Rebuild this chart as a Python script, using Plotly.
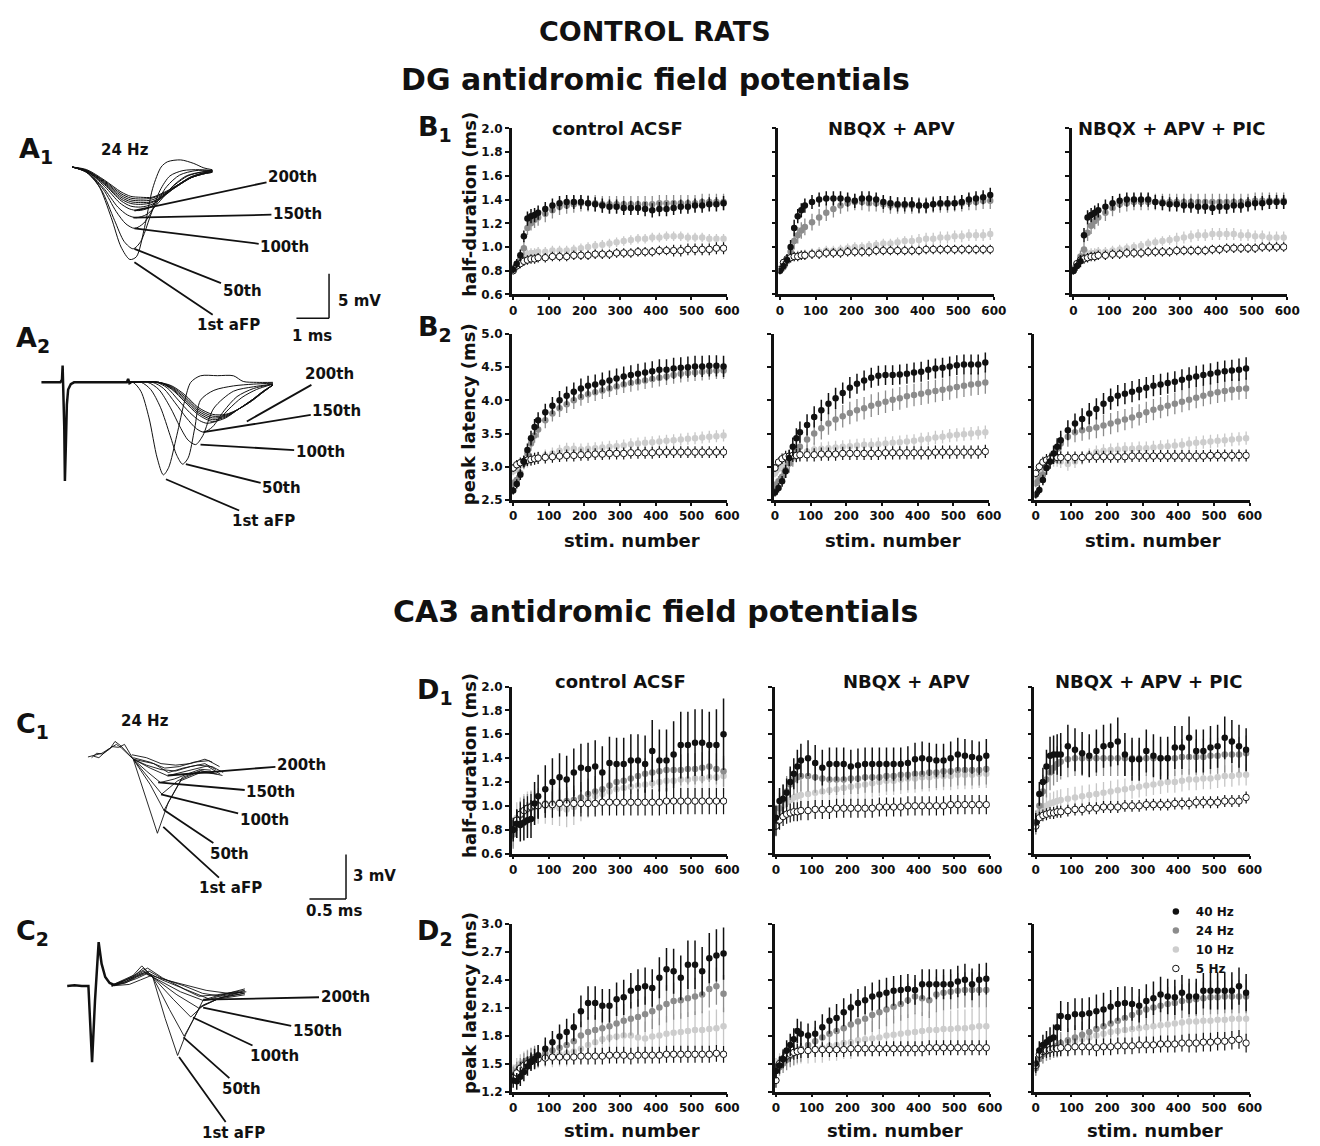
import plotly.graph_objects as go

W, H = 1320, 1146
FONT = "DejaVu Sans"
INK = "#111111"

# ---------------------------------------------------------------- shared axes data
STIM = [0, 10, 20, 30, 40, 50, 60, 70, 90, 110, 130, 150, 170, 190, 210, 230, 250,
        270, 290, 310, 330, 350, 370, 390, 410, 430, 450, 470, 490, 510, 530, 550, 570, 590]
STIM_TICKS = [0, 100, 200, 300, 400, 500, 600]
HD_TICKS = [0.6, 0.8, 1.0, 1.2, 1.4, 1.6, 1.8, 2.0]
DG_PL_TICKS = [2.5, 3.0, 3.5, 4.0, 4.5, 5.0]
CA3_PL_TICKS = [1.2, 1.5, 1.8, 2.1, 2.4, 2.7, 3.0]
CONDITIONS = ["control ACSF", "NBQX + APV", "NBQX + APV + PIC"]
FREQS = ["40 Hz", "24 Hz", "10 Hz", "5 Hz"]

# ---------------------------------------------------------------- B1: DG half-duration (x0.01 ms)
DG_HD_CTRL_40 = [81,86,93,109,124,126,127,129,132,135,137,138,138,138,137,136,135,134,134,133,133,133,132,131,132,132,133,134,134,135,135,136,136,137]
DG_HD_CTRL_40_SE = [3,4,5,5,6,6,6,6,6,6,6,6,6,6,6,6,6,6,6,6,6,6,6,6,6,6,6,6,6,6,6,6,6,6]
DG_HD_CTRL_24 = [82,84,90,99,116,120,123,125,128,131,134,135,136,137,137,137,136,136,136,136,136,136,136,136,137,137,137,137,137,137,138,138,138,138]
DG_HD_CTRL_24_SE = [3,4,5,6,6,6,7,7,7,7,7,7,7,7,7,7,7,7,7,7,7,7,7,7,7,7,7,7,7,7,7,7,7,7]
DG_HD_CTRL_10 = [82,86,90,92,94,95,95,96,96,97,97,97,98,99,100,101,102,103,104,105,106,107,107,108,108,109,109,109,108,108,108,107,107,107]
DG_HD_CTRL_10_SE = [3,3,4,4,4,4,4,4,4,4,4,4,4,4,4,4,4,4,4,4,4,4,4,4,4,4,4,4,4,4,4,4,4,4]
DG_HD_CTRL_5 = [80,84,86,88,89,90,90,91,91,92,92,92,93,93,93,94,94,94,95,95,95,96,96,96,97,97,97,97,98,98,98,98,99,99]
DG_HD_CTRL_5_SE = [3,3,4,4,4,4,4,4,4,4,4,4,4,4,4,4,4,4,4,4,4,4,4,4,4,4,5,5,5,5,5,5,5,5]

DG_HD_NBQX_40 = [80,84,89,100,116,126,131,135,138,140,141,141,141,140,139,141,141,140,138,137,136,136,136,135,135,136,137,137,137,138,140,141,142,144]
DG_HD_NBQX_40_SE = [3,4,5,6,7,6,6,6,6,6,6,6,6,6,6,6,6,6,6,6,6,6,6,6,6,6,6,6,6,6,6,6,6,6]
DG_HD_NBQX_24 = [80,83,88,96,105,110,114,117,121,125,129,132,135,137,138,138,137,137,136,135,135,135,135,135,135,136,136,136,137,137,138,138,139,139]
DG_HD_NBQX_24_SE = [3,4,5,6,7,7,7,7,7,7,7,7,7,7,7,7,7,7,7,7,7,7,7,7,7,7,7,7,7,7,7,7,7,7]
DG_HD_NBQX_10 = [82,86,89,91,92,93,93,94,95,96,97,97,98,99,100,100,101,102,103,103,104,105,105,106,107,107,108,108,109,109,110,110,110,111]
DG_HD_NBQX_10_SE = [3,3,4,4,4,4,4,4,4,4,4,4,4,4,4,4,4,4,4,4,4,4,5,5,5,5,5,5,5,5,5,5,5,5]
DG_HD_NBQX_5 = [81,87,90,91,92,92,93,93,94,94,95,95,95,96,96,96,96,97,97,97,97,97,97,97,98,98,98,98,98,98,98,98,98,98]
DG_HD_NBQX_5_SE = [3,3,4,4,4,4,4,4,4,4,4,4,4,4,4,4,4,4,4,4,4,4,4,4,4,4,4,4,4,4,4,4,4,4]

DG_HD_PIC_40 = [80,84,88,110,125,127,129,131,134,137,139,140,140,140,140,138,137,136,136,135,135,134,134,133,134,134,135,135,136,137,137,138,138,138]
DG_HD_PIC_40_SE = [3,4,5,6,6,6,6,6,6,6,6,6,6,6,6,6,6,6,6,6,6,6,6,6,6,6,6,6,6,6,6,6,6,6]
DG_HD_PIC_24 = [81,84,92,98,112,118,122,125,129,133,136,137,138,138,138,138,138,138,138,138,138,138,138,138,138,138,138,138,138,139,139,139,139,139]
DG_HD_PIC_24_SE = [3,4,5,6,7,7,7,7,7,7,7,7,7,7,7,7,7,7,7,7,7,7,7,7,7,7,7,7,7,7,7,7,7,7]
DG_HD_PIC_10 = [82,86,90,93,94,95,95,96,96,97,98,99,100,101,103,104,105,106,107,108,109,110,110,111,111,111,111,110,110,109,109,108,108,108]
DG_HD_PIC_10_SE = [3,3,4,4,4,4,4,4,4,4,4,4,4,4,4,4,4,4,5,5,5,5,5,5,5,5,5,5,5,5,5,5,5,5]
DG_HD_PIC_5 = [80,86,89,90,91,92,92,93,93,94,94,95,95,95,96,96,96,96,97,97,97,97,97,98,98,99,99,99,99,99,100,100,100,100]
DG_HD_PIC_5_SE = [3,3,4,4,4,4,4,4,4,4,4,4,4,4,4,4,4,4,4,4,4,4,4,4,4,4,4,4,4,4,4,4,4,4]

# ---------------------------------------------------------------- B2: DG peak latency (x0.01 ms)
DG_PL_CTRL_40 = [264,274,288,308,325,343,360,370,382,392,400,407,413,418,422,424,427,430,433,436,438,440,442,444,446,446,448,449,450,451,451,452,452,451]
DG_PL_CTRL_40_SE = [6,7,8,9,10,11,12,12,13,13,14,14,14,15,15,15,15,15,15,15,15,15,15,15,16,16,16,16,16,16,16,16,16,16]
DG_PL_CTRL_24 = [275,280,290,305,320,335,347,356,370,380,388,394,400,405,409,412,415,418,421,424,426,428,430,432,434,436,438,440,441,442,443,444,445,445]
DG_PL_CTRL_24_SE = [6,7,8,9,10,11,11,12,12,12,13,13,13,13,13,13,13,13,13,13,13,13,13,13,13,13,13,13,13,13,13,13,13,13]
DG_PL_CTRL_10 = [293,298,302,306,308,310,312,314,317,320,324,327,327,326,327,328,329,330,331,332,334,335,336,337,338,339,340,341,342,343,344,345,346,347]
DG_PL_CTRL_10_SE = [6,7,8,8,9,9,9,9,9,9,9,9,9,9,9,9,9,9,9,9,9,9,9,9,9,9,9,9,9,9,9,9,9,9]
DG_PL_CTRL_5 = [298,303,306,308,310,311,312,313,314,315,316,317,317,318,318,319,319,320,320,320,321,321,321,321,322,322,322,322,322,322,322,322,322,322]
DG_PL_CTRL_5_SE = [6,7,8,8,9,9,9,9,9,9,9,9,9,9,9,9,9,9,9,9,9,9,9,9,9,9,9,9,9,9,9,9,9,9]

DG_PL_NBQX_40 = [261,268,278,293,313,330,343,352,363,375,385,395,403,411,419,425,430,434,437,438,438,439,440,442,443,446,448,449,451,453,454,454,454,457]
DG_PL_NBQX_40_SE = [6,7,8,10,12,14,15,16,16,16,16,16,16,16,16,15,15,15,15,15,15,15,15,15,15,15,15,15,15,15,15,15,15,15]
DG_PL_NBQX_24 = [272,278,285,295,305,315,323,330,341,350,358,365,371,376,381,385,388,392,395,398,401,403,406,408,410,412,414,416,418,420,422,424,425,427]
DG_PL_NBQX_24_SE = [6,8,10,12,14,15,16,17,17,17,17,17,17,17,17,17,17,17,17,17,17,17,17,17,17,17,17,17,17,17,17,17,17,17]
DG_PL_NBQX_10 = [290,297,302,307,310,313,316,319,323,326,327,328,329,330,331,332,333,333,334,335,336,337,338,339,341,342,344,345,347,348,349,350,351,352]
DG_PL_NBQX_10_SE = [6,7,8,9,10,10,10,10,10,10,10,10,10,10,10,10,10,10,10,10,10,10,10,10,10,10,10,10,10,10,10,10,10,10]
DG_PL_NBQX_5 = [298,307,312,315,316,317,317,318,318,318,319,319,319,320,320,320,320,320,320,321,321,321,321,321,321,321,322,322,322,322,322,322,322,323]
DG_PL_NBQX_5_SE = [6,7,8,9,10,10,10,10,10,10,10,10,10,10,10,10,10,10,10,10,10,10,10,10,10,10,10,10,10,10,10,10,10,10]

DG_PL_PIC_40 = [258,265,280,298,308,320,330,340,355,365,372,380,387,395,402,407,410,413,416,419,422,424,426,428,431,434,436,438,440,442,444,445,446,448]
DG_PL_PIC_40_SE = [6,7,8,10,11,12,13,14,15,15,16,16,16,16,16,16,16,16,16,16,16,16,16,16,16,16,16,16,16,16,16,16,17,17]
DG_PL_PIC_24 = [275,280,288,298,308,317,327,335,345,352,355,357,359,362,365,368,371,374,378,382,386,389,392,395,398,401,404,407,410,412,414,416,417,418]
DG_PL_PIC_24_SE = [6,7,8,10,11,12,13,14,15,15,16,16,16,16,16,16,16,16,16,16,16,16,16,16,16,16,16,16,16,16,16,16,16,16]
DG_PL_PIC_10 = [282,290,297,303,307,310,310,308,304,308,313,318,322,324,325,326,327,327,328,328,329,330,331,332,333,335,336,337,338,339,340,341,342,343]
DG_PL_PIC_10_SE = [6,7,8,9,9,10,10,10,10,10,10,10,10,10,10,10,10,10,10,10,10,10,10,10,10,10,10,10,10,10,10,10,10,10]
DG_PL_PIC_5 = [290,300,307,310,312,313,314,314,314,314,314,315,315,315,315,315,315,316,316,316,316,316,316,316,316,316,316,316,317,317,317,317,317,317]
DG_PL_PIC_5_SE = [6,7,8,9,9,9,9,9,9,9,9,9,9,9,9,9,9,9,9,9,9,9,9,9,9,9,9,9,9,9,9,9,9,9]

# ---------------------------------------------------------------- D1: CA3 half-duration (x0.01 ms)
CA3_HD_CTRL_40 = [80,85,84,86,88,89,102,108,114,120,124,122,128,132,131,133,128,136,135,135,138,138,135,146,138,138,143,151,151,153,153,151,151,160]
CA3_HD_CTRL_40_SE = [10,12,14,15,15,16,18,18,20,20,20,20,20,20,22,22,22,22,22,22,22,22,24,26,26,26,28,28,28,28,28,28,30,30]
CA3_HD_CTRL_24 = [76,85,92,96,98,100,100,101,102,102,103,104,105,107,110,112,114,117,120,121,123,125,127,128,129,130,130,130,131,131,132,133,131,129]
CA3_HD_CTRL_24_SE = [12,12,12,12,12,12,12,12,12,12,12,12,12,13,13,13,13,13,13,13,13,13,13,13,13,13,13,13,13,13,13,13,13,13]
CA3_HD_CTRL_10 = [78,90,93,95,97,98,99,100,100,99,98,97,99,102,105,108,110,112,114,115,116,117,118,119,120,121,121,122,122,123,123,124,124,125]
CA3_HD_CTRL_10_SE = [12,13,14,15,15,15,15,15,15,15,15,15,15,15,15,15,15,15,15,15,15,15,15,15,15,15,15,15,15,15,15,15,15,15]
CA3_HD_CTRL_5 = [80,88,93,96,98,99,100,100,101,101,102,102,102,102,102,102,103,103,103,103,103,103,103,103,103,104,104,104,104,104,104,104,104,104]
CA3_HD_CTRL_5_SE = [8,9,10,10,10,11,11,11,11,11,11,11,11,11,11,11,11,11,11,11,11,11,11,11,11,11,11,11,11,11,11,11,11,11]

CA3_HD_NBQX_40 = [90,104,106,111,120,127,133,138,140,136,132,135,135,135,133,134,135,135,135,135,135,135,136,139,140,139,138,138,140,143,142,141,140,142]
CA3_HD_NBQX_40_SE = [10,11,12,12,13,13,14,14,15,15,15,14,14,14,14,14,14,14,14,14,14,14,14,14,14,14,14,14,14,14,14,14,14,14]
CA3_HD_NBQX_24 = [88,98,105,112,118,122,124,125,125,124,123,122,122,122,123,123,124,124,124,125,125,126,126,127,127,128,128,129,129,130,130,130,130,131]
CA3_HD_NBQX_24_SE = [13,13,13,13,13,13,13,13,13,13,13,13,13,13,13,13,13,13,13,13,13,13,13,13,13,13,13,13,13,13,13,13,13,13]
CA3_HD_NBQX_10 = [86,95,100,103,105,107,108,109,110,111,112,113,114,115,116,117,118,119,120,121,121,122,123,123,124,124,125,125,125,126,126,126,127,127]
CA3_HD_NBQX_10_SE = [12,12,12,12,12,12,12,12,12,12,12,12,12,12,12,12,12,12,12,12,12,12,12,12,12,12,12,12,12,12,12,12,12,12]
CA3_HD_NBQX_5 = [83,88,91,93,94,95,95,96,96,97,97,97,98,98,98,98,98,98,99,99,99,99,100,100,100,100,100,100,101,101,101,101,101,101]
CA3_HD_NBQX_5_SE = [8,8,8,8,8,8,8,8,8,8,8,8,8,8,8,8,8,8,8,8,8,8,8,8,8,8,8,8,8,8,8,8,8,8]

CA3_HD_PIC_40 = [86,110,120,133,142,143,143,143,150,147,144,142,146,150,151,154,143,139,139,146,142,140,140,149,149,157,146,146,149,150,157,154,150,147]
CA3_HD_PIC_40_SE = [8,10,12,14,16,16,17,18,18,18,18,18,18,18,18,20,18,18,18,18,18,18,18,18,18,18,18,18,18,18,18,18,18,18]
CA3_HD_PIC_24 = [86,100,112,122,128,132,135,137,139,140,140,140,140,140,140,140,140,140,140,140,140,140,140,140,141,141,141,141,142,142,143,143,143,144]
CA3_HD_PIC_24_SE = [10,12,14,15,15,15,15,15,15,15,15,15,15,15,15,15,15,15,15,15,15,15,15,15,15,15,15,15,15,15,15,15,15,15]
CA3_HD_PIC_10 = [84,95,98,100,102,103,104,105,106,107,108,109,110,111,112,113,114,115,116,117,118,119,120,120,121,122,122,123,123,124,125,125,126,126]
CA3_HD_PIC_10_SE = [8,9,9,9,9,9,9,9,9,9,9,9,9,9,9,9,9,9,9,9,9,9,9,9,9,9,9,9,9,9,9,9,9,9]
CA3_HD_PIC_5 = [83,90,92,93,94,94,95,95,96,97,97,98,98,99,99,99,100,100,100,101,101,101,101,102,102,102,103,103,103,103,104,104,104,107]
CA3_HD_PIC_5_SE = [5,5,5,5,5,5,5,5,5,5,5,5,5,5,5,5,5,5,5,5,5,5,5,5,5,5,5,5,5,5,5,5,5,5]

# ---------------------------------------------------------------- D2: CA3 peak latency (x0.01 ms)
CA3_PL_CTRL_40 = [132,131,136,141,147,152,155,159,166,173,179,184,189,206,215,215,212,212,219,221,228,231,233,231,242,251,249,242,256,256,249,263,266,268]
CA3_PL_CTRL_40_SE = [8,9,10,10,10,10,11,11,12,12,13,14,15,17,18,18,18,18,18,19,19,20,20,20,22,23,24,24,26,26,26,27,28,28]
CA3_PL_CTRL_24 = [138,142,146,150,153,155,157,158,161,164,167,170,174,180,184,186,188,190,193,196,198,200,203,206,210,214,217,218,220,222,224,230,233,225]
CA3_PL_CTRL_24_SE = [9,10,10,11,11,12,12,12,13,13,14,14,15,15,16,16,17,17,18,18,18,19,19,19,19,20,20,20,20,20,20,20,20,20]
CA3_PL_CTRL_10 = [140,146,150,152,154,155,156,157,158,159,160,161,163,166,170,173,176,178,179,180,180,178,177,179,180,182,183,184,185,186,186,187,188,190]
CA3_PL_CTRL_10_SE = [9,10,10,11,11,11,12,12,12,13,13,14,14,15,15,16,16,17,17,18,18,18,18,19,19,19,20,20,20,20,20,20,20,20]
CA3_PL_CTRL_5 = [135,140,145,148,150,152,154,155,156,157,157,157,157,158,158,158,158,159,159,159,158,159,159,159,159,160,160,160,160,160,160,160,161,160]
CA3_PL_CTRL_5_SE = [6,7,7,8,8,8,8,8,8,8,8,8,8,9,9,9,9,9,9,9,9,9,9,9,9,9,9,9,9,9,9,9,9,9]

CA3_PL_NBQX_40 = [142,148,155,164,170,176,185,182,180,182,189,196,199,205,210,215,218,222,224,226,228,229,230,229,235,235,235,235,235,238,240,235,240,241]
CA3_PL_NBQX_40_SE = [8,9,10,11,12,12,13,13,13,14,14,14,15,15,15,15,15,15,16,16,16,16,16,16,16,16,16,16,16,17,17,17,17,17]
CA3_PL_NBQX_24 = [142,146,150,154,158,161,164,166,170,174,178,182,185,188,192,195,198,202,205,208,211,214,218,222,220,218,224,226,227,228,229,229,229,229]
CA3_PL_NBQX_24_SE = [8,9,10,11,12,13,13,14,14,15,15,16,16,16,17,17,17,18,18,18,18,18,19,19,19,19,19,19,19,19,19,19,19,19]
CA3_PL_NBQX_10 = [148,152,156,158,160,162,163,164,165,166,167,169,170,172,173,175,176,177,178,180,181,182,183,184,185,186,186,187,187,188,188,189,190,190]
CA3_PL_NBQX_10_SE = [8,9,10,11,12,13,14,14,15,15,16,16,17,17,18,18,18,19,19,19,20,20,20,20,20,20,20,20,20,20,20,20,20,20]
CA3_PL_NBQX_5 = [132,150,155,158,160,162,163,164,164,165,165,165,165,165,166,166,166,166,166,166,166,166,166,166,166,167,167,167,167,167,167,167,167,167]
CA3_PL_NBQX_5_SE = [8,8,8,8,8,8,8,8,8,8,8,8,8,8,8,8,8,8,8,8,8,8,8,8,8,8,8,8,8,8,8,8,8,8]

CA3_PL_PIC_40 = [150,164,170,173,176,178,189,201,200,203,203,204,206,208,211,214,215,214,212,217,220,224,222,221,226,222,222,228,228,228,228,228,233,226]
CA3_PL_PIC_40_SE = [8,10,11,12,13,14,15,16,16,17,17,17,18,18,18,18,18,18,18,18,18,19,19,19,19,19,19,19,20,20,20,20,20,20]
CA3_PL_PIC_24 = [145,155,160,163,165,167,169,172,175,178,181,184,187,190,193,196,199,202,205,208,210,212,214,215,217,218,219,220,221,221,222,222,222,222]
CA3_PL_PIC_24_SE = [8,9,10,10,11,11,12,12,13,13,14,14,15,15,15,16,16,16,17,17,17,17,18,18,18,18,18,18,18,18,18,18,18,18]
CA3_PL_PIC_10 = [145,155,160,163,165,167,168,170,172,174,176,178,180,182,184,185,186,187,188,189,190,191,192,193,194,195,195,196,196,197,197,198,198,198]
CA3_PL_PIC_10_SE = [8,9,10,10,11,11,12,12,13,13,14,14,15,15,15,16,16,16,17,17,17,17,18,18,18,18,18,18,18,18,18,18,18,18]
CA3_PL_PIC_5 = [148,160,163,164,165,166,166,167,167,168,168,168,167,168,168,169,169,169,170,170,170,171,171,171,172,172,172,173,173,174,174,175,176,172]
CA3_PL_PIC_5_SE = [8,8,8,8,8,8,8,9,9,9,9,9,9,9,9,9,9,9,9,9,9,9,9,9,9,10,10,10,10,10,10,10,10,10]

# ---------------------------------------------------------------- A1: DG aFP at 24 Hz (ms, mV)
A1_T_1ST = [0, 0.4, 0.8, 1.2, 1.5, 1.77, 1.97, 2.22, 2.47, 2.73, 2.93, 3.33, 3.73, 4.04, 4.3]
A1_V_1ST = [0, -0.5, -2.0, -5.7, -9.0, -10.4, -10.1, -6.8, -2.4, 0.0, 0.6, 0.8, 0.4, -0.1, -0.3]
A1_T_50 = [0, 0.45, 0.9, 1.3, 1.6, 1.87, 2.1, 2.4, 2.7, 3.0, 3.4, 3.9, 4.3]
A1_V_50 = [0, -0.6, -2.6, -6.0, -8.4, -9.2, -8.4, -5.5, -2.6, -1.0, -0.4, -0.3, -0.4]
A1_T_100 = [0, 0.45, 0.95, 1.35, 1.65, 1.92, 2.2, 2.55, 2.9, 3.3, 3.8, 4.3]
A1_V_100 = [0, -0.6, -2.5, -5.0, -6.4, -6.9, -6.3, -4.3, -2.2, -0.9, -0.4, -0.4]
A1_T_150 = [0, 0.45, 0.95, 1.4, 1.7, 1.97, 2.3, 2.7, 3.1, 3.5, 3.9, 4.3]
A1_V_150 = [0, -0.6, -2.3, -4.5, -5.4, -5.7, -5.3, -3.8, -2.1, -1.0, -0.6, -0.4]
A1_T_200 = [0, 0.45, 1.0, 1.45, 1.75, 2.03, 2.35, 2.75, 3.15, 3.55, 3.95, 4.3]
A1_V_200 = [0, -0.5, -2.2, -4.0, -4.7, -4.9, -4.6, -3.4, -2.0, -1.0, -0.6, -0.4]
A1_T_LATE = [0, 0.45, 1.0, 1.5, 1.8, 2.1, 2.45, 2.85, 3.25, 3.65, 4.0, 4.3]
A1_V_LATE_1 = [0, -0.5, -2.0, -3.8, -4.4, -4.5, -4.2, -3.2, -2.0, -1.1, -0.7, -0.5]
A1_V_LATE_2 = [0, -0.5, -1.9, -3.6, -4.1, -4.2, -4.0, -3.1, -2.0, -1.1, -0.7, -0.5]
A1_V_LATE_3 = [0, -0.4, -1.8, -3.4, -3.9, -4.0, -3.9, -3.1, -2.1, -1.2, -0.7, -0.5]
A1_V_LATE_4 = [0, -0.4, -1.7, -3.2, -3.7, -3.8, -3.7, -3.0, -2.1, -1.2, -0.8, -0.5]
A1_V_LATE_5 = [0, -0.4, -1.6, -3.0, -3.5, -3.6, -3.5, -2.9, -2.0, -1.2, -0.8, -0.6]
A1_V_LATE_6 = [0, -0.3, -1.5, -2.8, -3.3, -3.4, -3.4, -2.8, -2.0, -1.2, -0.8, -0.6]

# ---------------------------------------------------------------- A2: DG aFP with stimulus artefact
A2_T_BASE = [-0.7, -0.12, -0.07, -0.05, 0.0, 0.02, 0.05, 0.08, 0.12, 0.2, 0.3, 1.92, 1.96, 2.0, 2.05]
A2_V_BASE = [0, 0, 0.3, 1.9, -5.0, -11.1, -7.0, -2.5, -0.8, -0.2, 0, 0, 0.4, -0.1, 0]
A2_T_1ST = [1.9, 2.11, 2.35, 2.6, 2.85, 3.04, 3.2, 3.45, 3.7, 3.88, 4.18, 4.7, 5.19, 5.49, 5.9, 6.4]
A2_V_1ST = [0, 0, -1.0, -4.0, -8.5, -10.4, -9.6, -6.0, -2.0, 0.0, 0.74, 0.75, 0.74, 0.1, 0.0, 0.0]
A2_T_50 = [1.9, 2.36, 2.65, 2.95, 3.25, 3.45, 3.63, 3.8, 4.0, 4.18, 4.59, 5.19, 5.8, 6.4]
A2_V_50 = [0, 0, -0.8, -2.8, -6.0, -8.2, -9.2, -8.5, -5.2, -2.0, -0.9, -0.4, -0.2, -0.1]
A2_T_100 = [1.9, 2.56, 2.9, 3.25, 3.55, 3.8, 4.03, 4.25, 4.59, 5.19, 5.8, 6.4]
A2_V_100 = [0, 0, -0.8, -2.8, -5.0, -6.5, -7.0, -6.0, -2.9, -1.0, -0.5, -0.2]
A2_T_150 = [1.9, 2.71, 3.05, 3.4, 3.75, 4.05, 4.28, 4.55, 4.9, 5.3, 5.8, 6.4]
A2_V_150 = [0, 0, -0.7, -2.3, -4.0, -5.2, -5.6, -5.0, -3.2, -1.6, -0.7, -0.2]
A2_T_200 = [1.9, 2.82, 3.15, 3.5, 3.85, 4.15, 4.38, 4.7, 5.05, 5.45, 5.9, 6.4]
A2_V_200 = [0, 0, -0.6, -2.0, -3.4, -4.3, -4.6, -4.3, -3.0, -1.7, -0.8, -0.2]
A2_T_LATE = [1.9, 2.9, 3.3, 3.7, 4.1, 4.55, 4.95, 5.35, 5.75, 6.1, 6.4]
A2_V_LATE_1 = [0, 0, -0.8, -2.2, -3.6, -4.4, -4.0, -3.0, -2.0, -1.0, -0.3]
A2_V_LATE_2 = [0, 0, -0.7, -2.0, -3.4, -4.2, -3.9, -3.0, -2.0, -1.0, -0.3]
A2_V_LATE_3 = [0, 0, -0.6, -1.8, -3.2, -4.0, -3.8, -3.0, -2.0, -1.1, -0.3]
A2_V_LATE_4 = [0, 0, -0.5, -1.6, -3.0, -3.8, -3.7, -3.0, -2.1, -1.1, -0.3]
A2_V_LATE_5 = [0, 0, -0.4, -1.4, -2.8, -3.6, -3.6, -3.0, -2.1, -1.1, -0.3]

# ---------------------------------------------------------------- C1: CA3 aFP at 24 Hz
C1_T_START_1 = [0, 0.1, 0.19, 0.32, 0.39, 0.46, 0.62]
C1_V_START_1 = [0.05, 0.2, 0.3, 0.7, 0.9, 0.65, -0.1]
C1_T_START_2 = [0.05, 0.12, 0.2, 0.3, 0.37, 0.45, 0.62]
C1_V_START_2 = [0.0, 0.3, 0.25, 0.6, 1.1, 0.8, -0.1]
C1_T_START_3 = [0.08, 0.15, 0.25, 0.33, 0.42, 0.5, 0.62]
C1_V_START_3 = [0.1, 0.0, 0.45, 0.75, 0.7, 0.9, -0.1]
C1_T_1ST = [0.62, 0.78, 0.95, 1.1, 1.29, 1.54, 1.84]
C1_V_1ST = [-0.1, -2.5, -5.1, -3.0, -1.33, -0.87, -1.2]
C1_T_50 = [0.62, 0.85, 1.04, 1.16, 1.27, 1.54, 1.77]
C1_V_50 = [-0.1, -1.8, -3.55, -2.5, -1.55, -1.0, -1.1]
C1_T_100 = [0.62, 0.82, 1.01, 1.12, 1.23, 1.54, 1.72]
C1_V_100 = [-0.1, -1.3, -2.45, -2.0, -1.55, -0.9, -1.0]
C1_T_150 = [0.62, 0.8, 0.99, 1.18, 1.36, 1.54, 1.68]
C1_V_150 = [-0.1, -0.9, -1.67, -1.44, -1.1, -0.78, -0.84]
C1_T_200 = [0.62, 0.85, 1.09, 1.36, 1.63, 1.81]
C1_V_200 = [-0.1, -0.7, -1.22, -0.89, -0.56, -1.11]
C1_T_LATE_1 = [0.62, 0.8, 1.0, 1.2, 1.4, 1.6, 1.75]
C1_V_LATE_1 = [-0.1, -0.5, -0.8, -0.9, -0.6, -0.4, -0.8]
C1_T_LATE_2 = [0.62, 0.85, 1.05, 1.25, 1.45, 1.65, 1.8]
C1_V_LATE_2 = [0.0, -0.3, -0.7, -0.6, -0.3, -0.2, -0.6]
C1_T_LATE_3 = [0.6, 0.8, 1.0, 1.2, 1.4, 1.6, 1.7]
C1_V_LATE_3 = [0.2, 0.0, -0.4, -0.5, -0.4, -0.1, -0.3]
C1_T_LATE_4 = [0.62, 0.9, 1.1, 1.3, 1.5, 1.7, 1.85]
C1_V_LATE_4 = [-0.1, -0.4, -1.0, -0.7, -0.5, -0.6, -1.0]

# ---------------------------------------------------------------- C2: CA3 aFP with stimulus artefact
C2_T_BASE = [0, 0.1, 0.2, 0.29, 0.34, 0.38, 0.43, 0.47, 0.52, 0.58, 0.65]
C2_V_BASE = [0, 0.05, 0, 0, -5.15, -1.0, 2.95, 1.5, 0.6, 0.2, 0.05]
C2_T_1ST = [0.61, 0.75, 0.9, 1.02, 1.17, 1.34, 1.51, 1.62, 1.86, 2.1, 2.43]
C2_V_1ST = [0.05, 0.35, 0.7, 1.35, 0.6, -2.2, -4.7, -3.3, -0.95, -0.6, -0.4]
C2_T_50 = [0.61, 0.75, 0.9, 1.04, 1.17, 1.4, 1.6, 1.7, 1.82, 2.1, 2.41]
C2_V_50 = [0.05, 0.3, 0.6, 1.2, 0.6, -1.6, -3.4, -2.5, -1.4, -0.8, -0.5]
C2_T_100 = [0.61, 0.75, 0.9, 1.05, 1.17, 1.45, 1.69, 1.87, 2.1, 2.39]
C2_V_100 = [0.0, 0.3, 0.6, 1.0, 0.6, -0.9, -2.1, -1.27, -0.8, -0.4]
C2_T_150 = [0.61, 0.78, 0.92, 1.06, 1.17, 1.5, 1.8, 2.05, 2.43]
C2_V_150 = [0.0, 0.25, 0.55, 0.9, 0.6, -0.6, -1.5, -0.9, -0.6]
C2_T_200 = [0.61, 0.78, 0.95, 1.08, 1.17, 1.55, 1.87, 2.1, 2.43]
C2_V_200 = [0.0, 0.2, 0.5, 0.8, 0.6, -0.4, -1.0, -0.8, -0.5]
C2_T_LATE_1 = [0.61, 0.8, 0.95, 1.1, 1.3, 1.55, 1.8, 2.05, 2.43]
C2_V_LATE_1 = [0.0, 0.2, 0.6, 0.9, 0.4, -0.1, -0.7, -0.6, -0.3]
C2_T_LATE_2 = [0.61, 0.8, 1.0, 1.12, 1.3, 1.6, 1.85, 2.1, 2.4]
C2_V_LATE_2 = [0.05, 0.3, 0.8, 1.0, 0.5, 0.0, -0.5, -0.7, -0.4]
C2_T_LATE_3 = [0.61, 0.85, 1.0, 1.15, 1.35, 1.6, 1.9, 2.2, 2.43]
C2_V_LATE_3 = [0.0, 0.1, 0.4, 0.7, 0.4, 0.1, -0.3, -0.5, -0.2]
C2_T_LATE_4 = [0.61, 0.8, 0.98, 1.1, 1.3, 1.6, 1.95, 2.2, 2.45]
C2_V_LATE_4 = [0.0, 0.4, 0.9, 1.2, 0.55, -0.2, -0.9, -0.5, -0.4]

# trace labels: (trace point t, v) and (label centre t, v)
TRACE_LABELS = ["200th", "150th", "100th", "50th", "1st aFP"]
A1_LAB_PT = [(1.91, -4.9), (1.88, -5.7), (1.91, -6.9), (1.91, -9.2), (1.91, -10.7)]
A1_LAB_TX = [(6.76, -1.1), (6.91, -5.3), (6.52, -9.0), (5.21, -14.0), (4.79, -17.8)]
A2_LAB_PT = [(5.6, -4.4), (4.27, -5.6), (4.18, -7.0), (3.73, -9.2), (3.12, -10.9)]
A2_LAB_TX = [(8.15, 0.9), (8.36, -3.2), (7.85, -7.8), (6.67, -11.9), (6.12, -15.6)]
C1_LAB_PT = [(1.09, -1.2), (0.96, -1.67), (1.0, -2.47), (1.04, -3.53), (1.03, -4.67)]
C1_LAB_TX = [(2.92, -0.47), (2.5, -2.33), (2.41, -4.2), (1.93, -6.47), (1.95, -8.8)]
C2_LAB_PT = [(1.86, -0.93), (1.86, -1.47), (1.72, -2.13), (1.59, -3.47), (1.53, -4.8)]
C2_LAB_TX = [(3.8, -0.73), (3.42, -3.07), (2.84, -4.73), (2.38, -6.93), (2.27, -9.9)]

# ---------------------------------------------------------------- helpers
def px_x(a, b):
    return [a / W, b / W]


def px_y(top, bot):
    return [1 - bot / H, 1 - top / H]


def group(a40, s40, a24, s24, a10, s10, a5, s5):
    return {"40 Hz": (a40, s40), "24 Hz": (a24, s24), "10 Hz": (a10, s10), "5 Hz": (a5, s5)}


STYLE = {
    "40 Hz": dict(fill=INK, edge=INK, bar=INK, lw=0, rank=1, bw=1.5),
    "24 Hz": dict(fill="#8c8c8c", edge="#8c8c8c", bar="#8c8c8c", lw=0, rank=2, bw=1.3),
    "10 Hz": dict(fill="#cdcdcd", edge="#cdcdcd", bar="#c6c6c6", lw=0, rank=3, bw=1.3),
    "5 Hz": dict(fill="#ffffff", edge=INK, bar=INK, lw=1, rank=4, bw=1.2),
}
DRAW_ORDER = ["10 Hz", "24 Hz", "5 Hz", "40 Hz"]

PANELS = [
    dict(xd=(515, 733), yd=(123, 291), yr=(0.6, 2.0), yt=HD_TICKS, lab=True,
         data=group(DG_HD_CTRL_40, DG_HD_CTRL_40_SE, DG_HD_CTRL_24, DG_HD_CTRL_24_SE,
                    DG_HD_CTRL_10, DG_HD_CTRL_10_SE, DG_HD_CTRL_5, DG_HD_CTRL_5_SE)),
    dict(xd=(785, 1003), yd=(123, 291), yr=(0.6, 2.0), yt=HD_TICKS, lab=False,
         data=group(DG_HD_NBQX_40, DG_HD_NBQX_40_SE, DG_HD_NBQX_24, DG_HD_NBQX_24_SE,
                    DG_HD_NBQX_10, DG_HD_NBQX_10_SE, DG_HD_NBQX_5, DG_HD_NBQX_5_SE)),
    dict(xd=(1082, 1300), yd=(123, 291), yr=(0.6, 2.0), yt=HD_TICKS, lab=False,
         data=group(DG_HD_PIC_40, DG_HD_PIC_40_SE, DG_HD_PIC_24, DG_HD_PIC_24_SE,
                    DG_HD_PIC_10, DG_HD_PIC_10_SE, DG_HD_PIC_5, DG_HD_PIC_5_SE)),
    dict(xd=(515, 733), yd=(331, 499), yr=(2.5, 5.0), yt=DG_PL_TICKS, lab=True,
         data=group(DG_PL_CTRL_40, DG_PL_CTRL_40_SE, DG_PL_CTRL_24, DG_PL_CTRL_24_SE,
                    DG_PL_CTRL_10, DG_PL_CTRL_10_SE, DG_PL_CTRL_5, DG_PL_CTRL_5_SE)),
    dict(xd=(780, 998), yd=(331, 499), yr=(2.5, 5.0), yt=DG_PL_TICKS, lab=False,
         data=group(DG_PL_NBQX_40, DG_PL_NBQX_40_SE, DG_PL_NBQX_24, DG_PL_NBQX_24_SE,
                    DG_PL_NBQX_10, DG_PL_NBQX_10_SE, DG_PL_NBQX_5, DG_PL_NBQX_5_SE)),
    dict(xd=(1044, 1262), yd=(331, 499), yr=(2.5, 5.0), yt=DG_PL_TICKS, lab=False,
         data=group(DG_PL_PIC_40, DG_PL_PIC_40_SE, DG_PL_PIC_24, DG_PL_PIC_24_SE,
                    DG_PL_PIC_10, DG_PL_PIC_10_SE, DG_PL_PIC_5, DG_PL_PIC_5_SE)),
    dict(xd=(515, 733), yd=(688, 857), yr=(0.6, 2.0), yt=HD_TICKS, lab=True,
         data=group(CA3_HD_CTRL_40, CA3_HD_CTRL_40_SE, CA3_HD_CTRL_24, CA3_HD_CTRL_24_SE,
                    CA3_HD_CTRL_10, CA3_HD_CTRL_10_SE, CA3_HD_CTRL_5, CA3_HD_CTRL_5_SE)),
    dict(xd=(781, 999), yd=(688, 857), yr=(0.6, 2.0), yt=HD_TICKS, lab=False,
         data=group(CA3_HD_NBQX_40, CA3_HD_NBQX_40_SE, CA3_HD_NBQX_24, CA3_HD_NBQX_24_SE,
                    CA3_HD_NBQX_10, CA3_HD_NBQX_10_SE, CA3_HD_NBQX_5, CA3_HD_NBQX_5_SE)),
    dict(xd=(1044, 1262), yd=(688, 857), yr=(0.6, 2.0), yt=HD_TICKS, lab=False,
         data=group(CA3_HD_PIC_40, CA3_HD_PIC_40_SE, CA3_HD_PIC_24, CA3_HD_PIC_24_SE,
                    CA3_HD_PIC_10, CA3_HD_PIC_10_SE, CA3_HD_PIC_5, CA3_HD_PIC_5_SE)),
    dict(xd=(515, 733), yd=(928, 1098), yr=(1.2, 3.0), yt=CA3_PL_TICKS, lab=True,
         data=group(CA3_PL_CTRL_40, CA3_PL_CTRL_40_SE, CA3_PL_CTRL_24, CA3_PL_CTRL_24_SE,
                    CA3_PL_CTRL_10, CA3_PL_CTRL_10_SE, CA3_PL_CTRL_5, CA3_PL_CTRL_5_SE)),
    dict(xd=(781, 999), yd=(928, 1098), yr=(1.2, 3.0), yt=CA3_PL_TICKS, lab=False,
         data=group(CA3_PL_NBQX_40, CA3_PL_NBQX_40_SE, CA3_PL_NBQX_24, CA3_PL_NBQX_24_SE,
                    CA3_PL_NBQX_10, CA3_PL_NBQX_10_SE, CA3_PL_NBQX_5, CA3_PL_NBQX_5_SE)),
    dict(xd=(1044, 1262), yd=(928, 1098), yr=(1.2, 3.0), yt=CA3_PL_TICKS, lab=False,
         data=group(CA3_PL_PIC_40, CA3_PL_PIC_40_SE, CA3_PL_PIC_24, CA3_PL_PIC_24_SE,
                    CA3_PL_PIC_10, CA3_PL_PIC_10_SE, CA3_PL_PIC_5, CA3_PL_PIC_5_SE)),
]

fig = go.Figure()
layout = {}
TICKFONT = dict(family=FONT, size=12, color=INK)

for i, p in enumerate(PANELS, start=1):
    s = "" if i == 1 else str(i)
    for f in DRAW_ORDER:
        vals, se = p["data"][f]
        st = STYLE[f]
        fig.add_trace(go.Scatter(
            x=STIM, y=[v / 100 for v in vals],
            error_y=dict(type="data", array=[e / 100 for e in se], visible=True,
                         color=st["bar"], thickness=st["bw"], width=0),
            mode="markers",
            marker=dict(size=6.5, color=st["fill"], line=dict(color=st["edge"], width=st["lw"])),
            name="<b>%s</b>" % f, legendrank=st["rank"], showlegend=(i == 12),
            xaxis="x" + s, yaxis="y" + s, hoverinfo="skip"))
    layout["xaxis" + s] = dict(
        domain=px_x(*p["xd"]), anchor="y" + s, range=[-4, 600],
        tickvals=STIM_TICKS, ticktext=["<b>%d</b>" % v for v in STIM_TICKS],
        ticks="outside", ticklen=3, tickwidth=1.5, tickcolor=INK,
        showline=True, linewidth=2.5, linecolor=INK, showgrid=False, zeroline=False,
        tickfont=TICKFONT)
    layout["yaxis" + s] = dict(
        domain=px_y(*p["yd"]), anchor="x" + s, range=list(p["yr"]),
        tickvals=p["yt"], ticktext=["<b>%.1f</b>" % v for v in p["yt"]],
        showticklabels=p["lab"], ticks="outside", ticklen=4, tickwidth=2, tickcolor=INK,
        showline=True, linewidth=2.5, linecolor=INK, showgrid=False, zeroline=False,
        tickfont=TICKFONT)


# ---------------------------------------------------------------- waveform panels
def wave_axes(idx, x0, x1, top, bot, t0_px, px_ms, v0_px, px_mv):
    layout["xaxis%d" % idx] = dict(domain=px_x(x0, x1), anchor="y%d" % idx, visible=False,
                                   range=[(x0 - t0_px) / px_ms, (x1 - t0_px) / px_ms])
    layout["yaxis%d" % idx] = dict(domain=px_y(top, bot), anchor="x%d" % idx, visible=False,
                                   range=[(v0_px - bot) / px_mv, (v0_px - top) / px_mv])


wave_axes(13, 0, 400, 130, 345, 70, 33, 162, 9)      # A1
wave_axes(14, 0, 400, 345, 545, 62, 33, 380, 9)      # A2
wave_axes(15, 0, 400, 700, 925, 86, 74, 760, 15)     # C1
wave_axes(16, 0, 400, 925, 1146, 65, 74, 991, 15)    # C2


def wave(t, v, idx, width=1.0, shape="spline"):
    fig.add_trace(go.Scatter(x=t, y=v, mode="lines",
                             line=dict(color=INK, width=width, shape=shape, smoothing=0.8),
                             xaxis="x%d" % idx, yaxis="y%d" % idx,
                             showlegend=False, hoverinfo="skip"))


for v in [A1_V_LATE_1, A1_V_LATE_2, A1_V_LATE_3, A1_V_LATE_4, A1_V_LATE_5, A1_V_LATE_6]:
    wave(A1_T_LATE, v, 13)
for t, v in [(A1_T_200, A1_V_200), (A1_T_150, A1_V_150), (A1_T_100, A1_V_100),
             (A1_T_50, A1_V_50), (A1_T_1ST, A1_V_1ST)]:
    wave(t, v, 13)

wave(A2_T_BASE, A2_V_BASE, 14, width=2.5, shape="linear")
for v in [A2_V_LATE_1, A2_V_LATE_2, A2_V_LATE_3, A2_V_LATE_4, A2_V_LATE_5]:
    wave(A2_T_LATE, v, 14)
for t, v in [(A2_T_200, A2_V_200), (A2_T_150, A2_V_150), (A2_T_100, A2_V_100),
             (A2_T_50, A2_V_50), (A2_T_1ST, A2_V_1ST)]:
    wave(t, v, 14)

for t, v in [(C1_T_START_1, C1_V_START_1), (C1_T_START_2, C1_V_START_2), (C1_T_START_3, C1_V_START_3),
             (C1_T_LATE_1, C1_V_LATE_1), (C1_T_LATE_2, C1_V_LATE_2), (C1_T_LATE_3, C1_V_LATE_3),
             (C1_T_LATE_4, C1_V_LATE_4), (C1_T_200, C1_V_200), (C1_T_150, C1_V_150),
             (C1_T_100, C1_V_100), (C1_T_50, C1_V_50), (C1_T_1ST, C1_V_1ST)]:
    wave(t, v, 15, width=0.9, shape="linear")

wave(C2_T_BASE, C2_V_BASE, 16, width=2.5, shape="linear")
for t, v in [(C2_T_LATE_1, C2_V_LATE_1), (C2_T_LATE_2, C2_V_LATE_2), (C2_T_LATE_3, C2_V_LATE_3),
             (C2_T_LATE_4, C2_V_LATE_4), (C2_T_200, C2_V_200), (C2_T_150, C2_V_150),
             (C2_T_100, C2_V_100), (C2_T_50, C2_V_50), (C2_T_1ST, C2_V_1ST)]:
    wave(t, v, 16, width=0.9, shape="linear")

annotations = []
for idx, pts, txs in [(13, A1_LAB_PT, A1_LAB_TX), (14, A2_LAB_PT, A2_LAB_TX),
                      (15, C1_LAB_PT, C1_LAB_TX), (16, C2_LAB_PT, C2_LAB_TX)]:
    for lab, (pt, pv), (tt, tv) in zip(TRACE_LABELS, pts, txs):
        annotations.append(dict(
            text="<b>%s</b>" % lab, x=pt, y=pv, xref="x%d" % idx, yref="y%d" % idx,
            ax=tt, ay=tv, axref="x%d" % idx, ayref="y%d" % idx,
            showarrow=True, arrowhead=0, arrowwidth=1.8, arrowcolor=INK,
            standoff=0, startstandoff=0,
            font=dict(family=FONT, size=15, color=INK)))

# scale bars (A: 1 ms / 5 mV in A1 axes; C: 0.5 ms / 3 mV in C1 axes)
shapes = [
    dict(type="line", xref="x13", yref="y13", x0=7.88, x1=7.88, y0=-12.0, y1=-17.0,
         line=dict(color=INK, width=1.5)),
    dict(type="line", xref="x13", yref="y13", x0=6.88, x1=7.88, y0=-17.0, y1=-17.0,
         line=dict(color=INK, width=1.5)),
    dict(type="line", xref="x15", yref="y15", x0=3.53, x1=3.53, y0=-6.53, y1=-9.53,
         line=dict(color=INK, width=1.5)),
    dict(type="line", xref="x15", yref="y15", x0=3.03, x1=3.53, y0=-9.53, y1=-9.53,
         line=dict(color=INK, width=1.5)),
]
for text, x, y, xr, yr, anchor in [("5 mV", 8.1, -15.1, "x13", "y13", "left"),
                                   ("1 ms", 7.36, -19.0, "x13", "y13", "center"),
                                   ("3 mV", 3.6, -8.0, "x15", "y15", "left"),
                                   ("0.5 ms", 3.36, -10.33, "x15", "y15", "center")]:
    annotations.append(dict(text="<b>%s</b>" % text, x=x, y=y, xref=xr, yref=yr, showarrow=False,
                            xanchor=anchor, yanchor="middle",
                            font=dict(family=FONT, size=15, color=INK)))


def note(text, x, y, size, angle=0, anchor="center"):
    annotations.append(dict(text=text, x=x / W, y=1 - y / H, xref="paper", yref="paper",
                            showarrow=False, textangle=angle, xanchor=anchor, yanchor="middle",
                            font=dict(family=FONT, size=size, color=INK)))


note("<b>CONTROL RATS</b>", 660, 25, 27)
note("<b>DG antidromic field potentials</b>", 660, 73, 30)
note("<b>CA3 antidromic field potentials</b>", 660, 612, 30)

for lab, sub, x, y in [("A", 1, 33, 145), ("A", 2, 30, 337), ("B", 1, 437, 123), ("B", 2, 437, 325),
                       ("C", 1, 30, 727), ("C", 2, 30, 937), ("D", 1, 437, 693), ("D", 2, 437, 937)]:
    note("<b>%s<sub>%d</sub></b>" % (lab, sub), x, y, 27)

note("<b>24 Hz</b>", 124, 145, 15)
note("<b>24 Hz</b>", 144, 723, 15)

for cond, x in zip(CONDITIONS, [622, 899, 1183]):
    note("<b>%s</b>" % cond, x, 123, 18)
for cond, x in zip(CONDITIONS, [625, 915, 1160]):
    note("<b>%s</b>" % cond, x, 683, 18)

note("<b>half-duration (ms)</b>", 472, 200, 18, angle=-90)
note("<b>peak latency (ms)</b>", 472, 412, 18, angle=-90)
note("<b>half-duration (ms)</b>", 472, 768, 18, angle=-90)
note("<b>peak latency (ms)</b>", 472, 1008, 18, angle=-90)
for x in [637, 901, 1164]:
    note("<b>stim. number</b>", x, 540, 18)
for x in [637, 903, 1166]:
    note("<b>stim. number</b>", x, 1137, 18)

fig.update_layout(
    width=W, height=H, margin=dict(l=0, r=0, t=0, b=0),
    paper_bgcolor="white", plot_bgcolor="white",
    annotations=annotations, shapes=shapes, showlegend=True,
    legend=dict(x=1167 / W, y=1 - 901 / H, xanchor="left", yanchor="top",
                bgcolor="rgba(0,0,0,0)", font=dict(family=FONT, size=12, color=INK),
                tracegroupgap=0, itemwidth=30, traceorder="normal"),
    **layout)

fig.write_html("out.html")
